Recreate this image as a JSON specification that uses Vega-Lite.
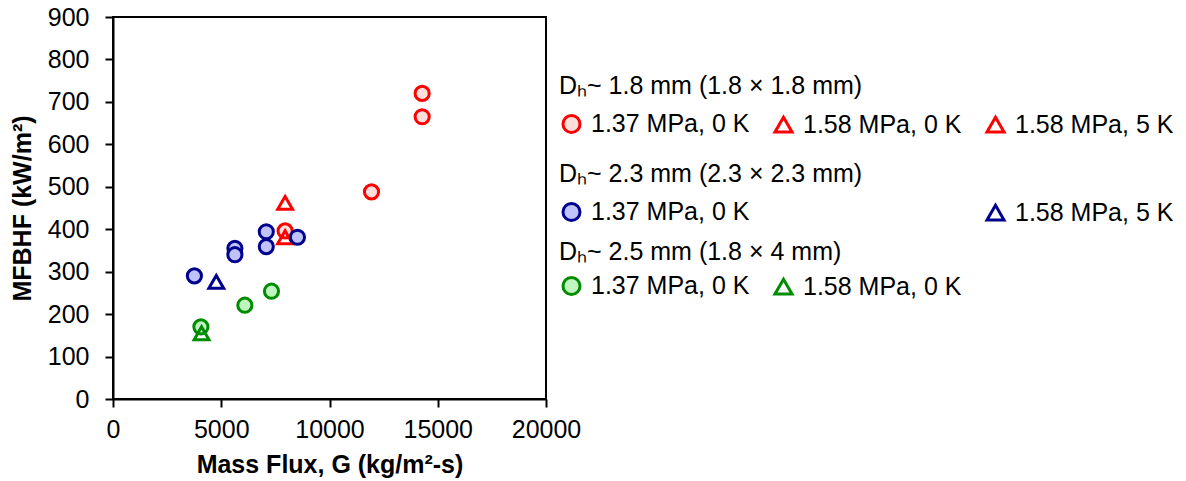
{
  "$schema": "https://vega.github.io/schema/vega-lite/v6.json",
  "autosize": "none",
  "width": 433,
  "height": 382,
  "padding": {"left": 113, "top": 17, "right": 640, "bottom": 82},
  "background": "white",
  "config": {
    "font": "Liberation Sans",
    "view": {"stroke": "black", "strokeWidth": 2},
    "axis": {
      "grid": false,
      "domainColor": "black",
      "domainWidth": 2,
      "tickColor": "black",
      "tickWidth": 2,
      "tickSize": 8,
      "labelFont": "Liberation Sans",
      "labelFontSize": 25,
      "labelColor": "black",
      "labelFlush": false,
      "labelOverlap": false,
      "titleFont": "Liberation Sans",
      "titleFontSize": 25,
      "titleFontWeight": "bold",
      "titleColor": "black"
    },
    "legend": {
      "orient": "none",
      "columns": 3,
      "gridAlign": "all",
      "symbolSize": 290,
      "symbolStrokeWidth": 3,
      "labelFont": "Liberation Sans",
      "labelFontSize": 25,
      "labelColor": "black",
      "labelLimit": 400,
      "labelOffset": 7,
      "titleFont": "Liberation Sans",
      "titleFontSize": 25,
      "titleFontWeight": "normal",
      "titleColor": "black",
      "titleLimit": 600,
      "titlePadding": 12,
      "columnPadding": 18,
      "padding": 0
    }
  },
  "data": {
    "values": [
      {"grp": "1.8", "cond": "1.37 MPa, 0 K", "mk": "circle", "G": 14280, "MFBHF": 720},
      {"grp": "1.8", "cond": "1.37 MPa, 0 K", "mk": "circle", "G": 14280, "MFBHF": 665},
      {"grp": "1.8", "cond": "1.37 MPa, 0 K", "mk": "circle", "G": 11940, "MFBHF": 488},
      {"grp": "1.8", "cond": "1.37 MPa, 0 K", "mk": "circle", "G": 7950, "MFBHF": 396},
      {"grp": "1.8", "cond": "1.58 MPa, 0 K", "mk": "triangle", "G": 7950, "MFBHF": 381},
      {"grp": "1.8", "cond": "1.58 MPa, 5 K", "mk": "triangle", "G": 7950, "MFBHF": 462},
      {"grp": "2.3", "cond": "1.37 MPa, 0 K", "mk": "circle", "G": 7080, "MFBHF": 394},
      {"grp": "2.3", "cond": "1.37 MPa, 0 K", "mk": "circle", "G": 7080, "MFBHF": 359},
      {"grp": "2.3", "cond": "1.37 MPa, 0 K", "mk": "circle", "G": 8520, "MFBHF": 381},
      {"grp": "2.3", "cond": "1.37 MPa, 0 K", "mk": "circle", "G": 5630, "MFBHF": 355},
      {"grp": "2.3", "cond": "1.37 MPa, 0 K", "mk": "circle", "G": 5630, "MFBHF": 340},
      {"grp": "2.3", "cond": "1.37 MPa, 0 K", "mk": "circle", "G": 3760, "MFBHF": 290},
      {"grp": "2.3", "cond": "1.58 MPa, 5 K", "mk": "triangle", "G": 4770, "MFBHF": 276},
      {"grp": "2.5", "cond": "1.37 MPa, 0 K", "mk": "circle", "G": 7320, "MFBHF": 254},
      {"grp": "2.5", "cond": "1.37 MPa, 0 K", "mk": "circle", "G": 6090, "MFBHF": 221},
      {"grp": "2.5", "cond": "1.37 MPa, 0 K", "mk": "circle", "G": 4060, "MFBHF": 170},
      {"grp": "2.5", "cond": "1.58 MPa, 0 K", "mk": "triangle", "G": 4090, "MFBHF": 155}
    ]
  },
  "encoding": {
    "x": {
      "field": "G", "type": "quantitative",
      "scale": {"domain": [0, 20000], "nice": false},
      "axis": {"values": [0, 5000, 10000, 15000, 20000], "format": "d", "labelPadding": 10, "title": "Mass Flux, G (kg/m²-s)", "titlePadding": 10}
    },
    "y": {
      "field": "MFBHF", "type": "quantitative",
      "scale": {"domain": [0, 900], "nice": false},
      "axis": {"values": [0, 100, 200, 300, 400, 500, 600, 700, 800, 900], "labelPadding": 16, "title": "MFBHF (kW/m²)", "titlePadding": 12}
    },
    "size": {
      "field": "mk", "type": "nominal",
      "scale": {"domain": ["circle", "triangle"], "range": [200, 220]},
      "legend": null
    }
  },
  "layer": [
    {
      "transform": [{"filter": "datum.grp === '1.8'"}],
      "mark": {"type": "point", "filled": false, "strokeWidth": 3, "opacity": 1},
      "encoding": {
        "shape": {"field": "cond", "type": "nominal", "scale": {"domain": ["1.37 MPa, 0 K", "1.58 MPa, 0 K", "1.58 MPa, 5 K"], "range": ["circle", "triangle-up", "triangle-up"]}, "legend": {"title": "Dₕ~ 1.8 mm (1.8 × 1.8 mm)", "legendX": 446, "legendY": 57}},
        "fill": {"field": "cond", "type": "nominal", "scale": {"domain": ["1.37 MPa, 0 K", "1.58 MPa, 0 K", "1.58 MPa, 5 K"], "range": ["#FDE0DC", "transparent", "transparent"]}, "legend": {"title": "Dₕ~ 1.8 mm (1.8 × 1.8 mm)", "legendX": 446, "legendY": 57}},
        "stroke": {"field": "cond", "type": "nominal", "scale": {"domain": ["1.37 MPa, 0 K", "1.58 MPa, 0 K", "1.58 MPa, 5 K"], "range": ["#FF0000", "#FF0000", "#FF0000"]}, "legend": {"title": "Dₕ~ 1.8 mm (1.8 × 1.8 mm)", "legendX": 446, "legendY": 57}}
      }
    },
    {
      "transform": [{"filter": "datum.grp === '2.3'"}],
      "mark": {"type": "point", "filled": false, "strokeWidth": 3, "opacity": 1},
      "encoding": {
        "shape": {"field": "cond", "type": "nominal", "scale": {"domain": ["1.37 MPa, 0 K", " ", "1.58 MPa, 5 K"], "range": ["circle", "M0,0", "triangle-up"]}, "legend": {"title": "Dₕ~ 2.3 mm (2.3 × 2.3 mm)", "legendX": 446, "legendY": 145}},
        "fill": {"field": "cond", "type": "nominal", "scale": {"domain": ["1.37 MPa, 0 K", " ", "1.58 MPa, 5 K"], "range": ["#C0C2FA", "transparent", "transparent"]}, "legend": {"title": "Dₕ~ 2.3 mm (2.3 × 2.3 mm)", "legendX": 446, "legendY": 145}},
        "stroke": {"field": "cond", "type": "nominal", "scale": {"domain": ["1.37 MPa, 0 K", " ", "1.58 MPa, 5 K"], "range": ["#00008F", "transparent", "#00008F"]}, "legend": {"title": "Dₕ~ 2.3 mm (2.3 × 2.3 mm)", "legendX": 446, "legendY": 145}}
      }
    },
    {
      "transform": [{"filter": "datum.grp === '2.5'"}],
      "mark": {"type": "point", "filled": false, "strokeWidth": 3, "opacity": 1},
      "encoding": {
        "shape": {"field": "cond", "type": "nominal", "scale": {"domain": ["1.37 MPa, 0 K", "1.58 MPa, 0 K"], "range": ["circle", "triangle-up"]}, "legend": {"title": "Dₕ~ 2.5 mm (1.8 × 4 mm)", "legendX": 446, "legendY": 223, "titlePadding": 8}},
        "fill": {"field": "cond", "type": "nominal", "scale": {"domain": ["1.37 MPa, 0 K", "1.58 MPa, 0 K"], "range": ["#BFF5BF", "transparent"]}, "legend": {"title": "Dₕ~ 2.5 mm (1.8 × 4 mm)", "legendX": 446, "legendY": 223, "titlePadding": 8}},
        "stroke": {"field": "cond", "type": "nominal", "scale": {"domain": ["1.37 MPa, 0 K", "1.58 MPa, 0 K"], "range": ["#008C00", "#008C00"]}, "legend": {"title": "Dₕ~ 2.5 mm (1.8 × 4 mm)", "legendX": 446, "legendY": 223, "titlePadding": 8}}
      }
    }
  ],
  "resolve": {
    "scale": {"shape": "independent", "fill": "independent", "stroke": "independent"},
    "legend": {"shape": "independent", "fill": "independent", "stroke": "independent"}
  }
}
